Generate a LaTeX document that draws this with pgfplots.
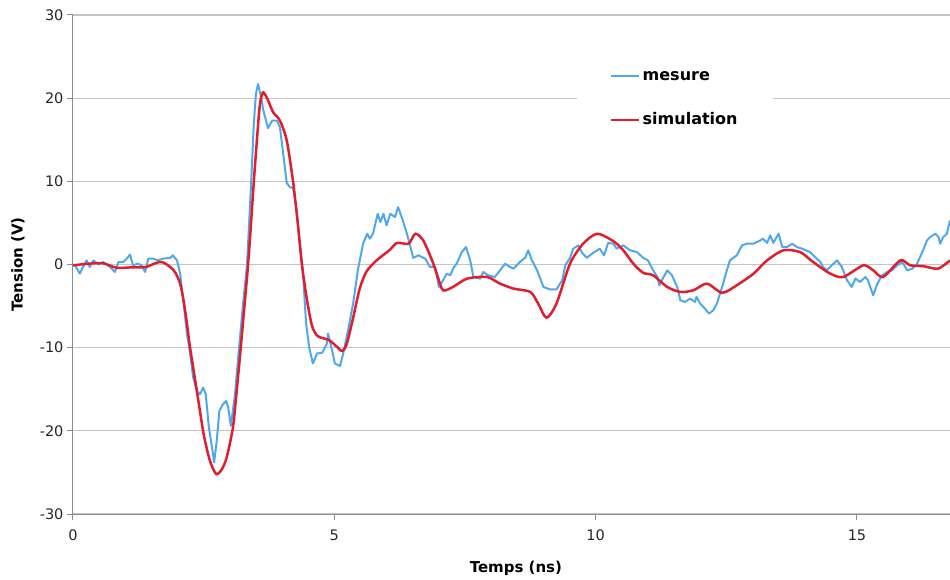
\documentclass[border=0pt]{standalone}
\usepackage{fontspec}
\setmainfont{DejaVu Sans}
\usepackage{pgfplots}
\pgfplotsset{compat=1.18}
\definecolor{mblue}{RGB}{80,168,236}
\definecolor{sred}{RGB}{224,30,48}
\definecolor{gridc}{RGB}{196,196,196}
\definecolor{axc}{RGB}{140,140,140}
\begin{document}
\begin{tikzpicture}
\begin{axis}[
  scale only axis, width=877pt, height=499pt,
  xmin=0, xmax=16.78, ymin=-30, ymax=30,
  axis x line=bottom, axis y line=left,
  axis line style={-, draw=axc, line width=1pt},
  xtick={0,5,10,15}, ytick={-30,-20,...,30},
  ymajorgrids, grid style={gridc, line width=1.2pt},
  tick align=outside, major tick length=6pt, tick style={axc, line width=1pt},
  /pgf/number format/assume math mode=true,
  ticklabel style={font=\fontsize{14.5}{17}\selectfont, text=black!85},
  xticklabel style={yshift=-6pt},
  xlabel={Temps (ns)}, ylabel={Tension (V)},
  label style={font=\bfseries\fontsize{15}{18}\selectfont},
  xlabel style={at={(axis description cs:0.505,-0.108)}, anchor=center},
  ylabel style={at={(axis description cs:-0.0627,0.5)}, anchor=center},
  legend style={at={(axis description cs:0.5747,0.918)}, anchor=north west,
    draw=none, fill=white, inner xsep=32.5pt, inner ysep=10pt,
    row sep=24pt, font=\bfseries\fontsize{16}{19}\selectfont,
    nodes={inner sep=2.5pt, text height=12pt, text depth=3pt}},
  legend cell align=left,
  legend image code/.code={\draw[#1] (0pt,0pt) -- (28pt,0pt);},
]
\addplot[mblue, line width=2pt, line join=round] coordinates {
(0,0) (0.04,-0.1) (0.13,-1.1) (0.19,-0.3) (0.26,0.5) (0.32,-0.3) (0.39,0.5) (0.48,0)
(0.58,0.3) (0.71,-0.3) (0.8,-0.9) (0.87,0.3) (0.96,0.3) (1.03,0.7) (1.09,1.2) (1.15,-0.1)
(1.24,0.1) (1.31,-0.1) (1.38,-0.9) (1.44,0.7) (1.53,0.7) (1.63,0.5) (1.72,0.7) (1.86,0.8)
(1.91,1.1) (1.99,0.5) (2.05,-1.1) (2.11,-4.3) (2.18,-8.3) (2.24,-10.7) (2.3,-13.6) (2.37,-15.2)
(2.43,-15.6) (2.49,-14.8) (2.54,-15.6) (2.6,-19.6) (2.66,-22) (2.7,-23.8) (2.75,-21.2) (2.8,-17.6)
(2.87,-16.8) (2.93,-16.4) (2.97,-17.2) (3.02,-19.4) (3.1,-15.6) (3.16,-11.2) (3.25,-5) (3.33,0)
(3.41,10) (3.46,17) (3.5,20.5) (3.54,21.7) (3.6,20.1) (3.64,18.6) (3.73,16.4) (3.81,17.3)
(3.9,17.3) (3.96,16.5) (4.02,13.4) (4.09,9.8) (4.15,9.3) (4.21,9.2) (4.28,6.5) (4.34,2.5)
(4.4,-1) (4.46,-7.1) (4.52,-10) (4.59,-11.9) (4.67,-10.7) (4.77,-10.6) (4.86,-9.5) (4.88,-8.3)
(4.96,-10.4) (5.01,-11.9) (5.11,-12.2) (5.17,-10.7) (5.26,-8) (5.36,-4.7) (5.45,-0.7) (5.55,2.5)
(5.63,3.7) (5.68,3.1) (5.74,3.7) (5.83,6.1) (5.88,5.1) (5.94,6.1) (6.0,4.7) (6.07,6.1)
(6.16,5.7) (6.22,6.9) (6.3,5.5) (6.39,3.7) (6.51,0.8) (6.61,1.1) (6.74,0.7) (6.83,-0.3)
(6.93,-0.3) (7.0,-2.7) (7.08,-1.9) (7.15,-1.1) (7.22,-1.3) (7.28,-0.4) (7.34,0.1) (7.44,1.5)
(7.52,2.1) (7.6,0.5) (7.66,-1.5) (7.79,-1.7) (7.85,-0.9) (7.94,-1.3) (8.07,-1.5) (8.17,-0.7)
(8.27,0.1) (8.36,-0.3) (8.43,-0.5) (8.55,0.3) (8.65,0.8) (8.71,1.7) (8.78,0.5) (8.88,-0.7)
(9.0,-2.7) (9.13,-3) (9.25,-3) (9.36,-1.9) (9.42,-0.1) (9.51,0.8) (9.57,1.9) (9.67,2.3)
(9.73,1.5) (9.83,0.8) (9.95,1.4) (10.08,1.9) (10.16,1.1) (10.24,2.6) (10.34,2.5) (10.4,1.9)
(10.53,2.3) (10.66,1.7) (10.79,1.5) (10.91,0.8) (11.0,0.5) (11.1,-0.7) (11.18,-1.5) (11.22,-2.5)
(11.3,-1.5) (11.37,-0.7) (11.46,-1.3) (11.56,-2.7) (11.62,-4.3) (11.71,-4.5) (11.81,-4.1) (11.9,-4.5)
(11.93,-3.9) (12.0,-4.7) (12.09,-5.3) (12.17,-5.9) (12.25,-5.5) (12.32,-4.7) (12.42,-2.7) (12.51,-0.7)
(12.57,0.5) (12.7,1.1) (12.8,2.3) (12.89,2.5) (13.02,2.5) (13.15,2.9) (13.2,3.1) (13.28,2.6)
(13.34,3.5) (13.4,2.6) (13.5,3.7) (13.57,2.1) (13.66,2.1) (13.76,2.5) (13.85,2.1) (13.95,1.9)
(14.1,1.5) (14.23,0.7) (14.3,0.3) (14.35,-0.3) (14.42,-0.7) (14.55,0.1) (14.62,0.5) (14.71,-0.3)
(14.81,-1.9) (14.9,-2.7) (14.97,-1.7) (15.06,-2.1) (15.16,-1.5) (15.21,-1.9) (15.31,-3.7) (15.39,-2.3)
(15.48,-1.3) (15.58,-0.9) (15.67,-0.7) (15.77,-0.1) (15.87,0.3) (15.96,-0.7) (16.06,-0.5) (16.15,0.1)
(16.25,1.5) (16.34,2.9) (16.4,3.3) (16.5,3.7) (16.56,3.3) (16.59,2.5) (16.65,3.3) (16.72,3.7)
(16.78,5.3)
};
\addlegendentry{mesure}
\addplot[sred, line width=2.5pt, smooth, tension=0.45] coordinates {
(0,-0.1) (0.3,0.1) (0.57,0.15) (0.84,-0.4) (1.1,-0.35) (1.4,-0.3) (1.55,0.1) (1.7,0.3)
(1.86,-0.3) (1.96,-1.0) (2.05,-2.3) (2.12,-4.5) (2.18,-7.1) (2.24,-10) (2.37,-15.2) (2.5,-20.4)
(2.62,-23.6) (2.74,-25.2) (2.85,-24.6) (2.94,-23.2) (3.06,-19.6) (3.135,-15) (3.21,-10) (3.28,-5)
(3.35,0) (3.41,5.3) (3.46,10) (3.55,17.5) (3.59,19.8) (3.64,20.7) (3.72,19.9) (3.83,18.3)
(3.96,17.3) (4.09,14.9) (4.21,10) (4.3,5) (4.38,0) (4.47,-4) (4.57,-7.3) (4.68,-8.6)
(4.9,-9.1) (5.05,-9.9) (5.15,-10.4) (5.24,-9.5) (5.36,-6.4) (5.49,-2.8) (5.62,-0.8) (5.81,0.5)
(6.05,1.7) (6.2,2.6) (6.42,2.5) (6.55,3.7) (6.7,2.9) (6.87,0.5) (6.98,-1.5) (7.08,-3.1)
(7.27,-2.7) (7.54,-1.7) (7.92,-1.5) (8.17,-2.3) (8.43,-2.9) (8.75,-3.3) (8.9,-4.7) (9.06,-6.4)
(9.25,-4.7) (9.51,0.1) (9.76,2.5) (10.03,3.7) (10.34,2.8) (10.53,1.7) (10.72,0.1) (10.91,-1.0)
(11.1,-1.3) (11.37,-2.7) (11.62,-3.3) (11.87,-3.1) (12.13,-2.3) (12.42,-3.4) (12.7,-2.5) (13.02,-1.1)
(13.28,0.5) (13.59,1.7) (13.91,1.5) (14.16,0.3) (14.49,-1.1) (14.74,-1.5) (15.12,-0.1) (15.31,-0.7)
(15.5,-1.5) (15.83,0.5) (16.02,-0.1) (16.27,-0.2) (16.55,-0.5) (16.78,0.5)
};
\addlegendentry{simulation}
\end{axis}
\pgfresetboundingbox
\path[use as bounding box] ([xshift=-73pt,yshift=-65pt]current axis.south west) rectangle ([yshift=15pt]current axis.north east);
\end{tikzpicture}
\end{document}
